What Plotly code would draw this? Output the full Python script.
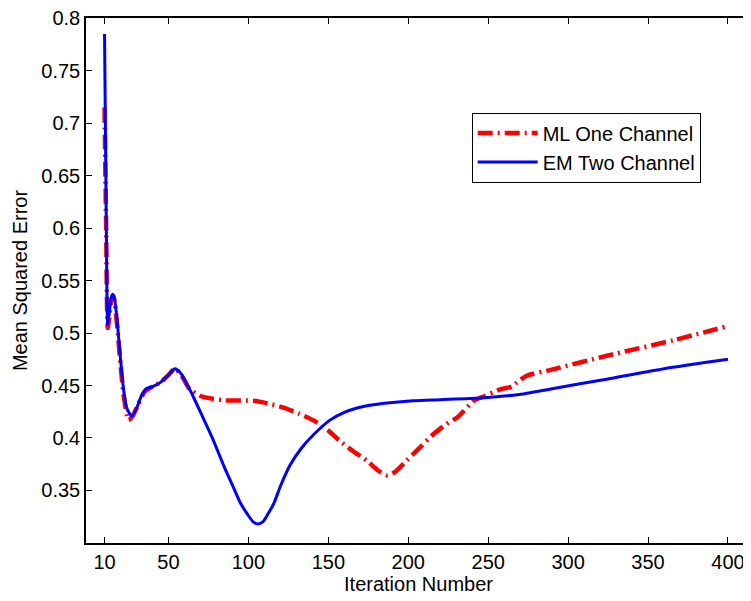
"""MSE vs iteration: ML one-channel vs EM two-channel."""

import plotly.graph_objects as go

# iteration numbers and MSE
ml_iter = [10, 11, 12, 13, 14, 15, 16, 18, 20, 22, 25, 28, 31, 35, 40, 45, 50, 54,
           58, 63, 70, 84, 103, 112, 122, 132, 141, 150, 157, 165, 174, 181, 187,
           192, 199, 208, 216, 224, 231, 241, 248, 258, 265, 268, 274, 291, 324,
           366, 400]
ml_mse = [0.715, 0.600, 0.505, 0.515, 0.530, 0.535, 0.532, 0.505, 0.470, 0.440,
          0.417, 0.422, 0.432, 0.444, 0.449, 0.453, 0.460, 0.466, 0.460, 0.447,
          0.440, 0.436, 0.4355, 0.433, 0.429, 0.423, 0.4165, 0.407, 0.3975, 0.388,
          0.3785, 0.369, 0.3643, 0.368, 0.3785, 0.392, 0.404, 0.4134, 0.420,
          0.4355, 0.440, 0.4466, 0.449, 0.453, 0.4593, 0.4656, 0.4783, 0.4932,
          0.5067]

em_iter = [10, 11, 12, 13, 14, 15, 16, 18, 20, 22, 24, 27, 30, 33, 36, 40, 45, 50,
           54, 58, 65, 72, 78, 85, 90, 95, 100, 103, 106, 109, 112, 116, 120, 126,
           133, 141, 151, 160, 172, 185, 203, 220, 245, 260, 272, 290, 324, 360, 400]
em_mse = [0.785, 0.620, 0.508, 0.520, 0.532, 0.537, 0.535, 0.510, 0.475, 0.445,
          0.428, 0.421, 0.428, 0.440, 0.447, 0.449, 0.453, 0.460, 0.466, 0.461,
          0.441, 0.418, 0.398, 0.372, 0.355, 0.338, 0.326, 0.320, 0.318, 0.320,
          0.327, 0.338, 0.354, 0.374, 0.390, 0.4035, 0.417, 0.4245, 0.430, 0.433,
          0.4355, 0.4365, 0.438, 0.440, 0.442, 0.447, 0.456, 0.466, 0.475]

x_ticks = [10, 50, 100, 150, 200, 250, 300, 350, 400]
y_ticks = [0.35, 0.4, 0.45, 0.5, 0.55, 0.6, 0.65, 0.7, 0.75, 0.8]

FONT = "Liberation Sans, Arial, sans-serif"
FSIZE = 20

fig = go.Figure()
fig.add_trace(go.Scatter(
    x=ml_iter, y=ml_mse, mode="lines", name="ML One Channel",
    line=dict(color="#ff0000", width=4.5, dash="15px,5px,2px,5px",
              shape="spline", smoothing=0.6),
))
fig.add_trace(go.Scatter(
    x=em_iter, y=em_mse, mode="lines", name="EM Two Channel",
    line=dict(color="#0000ff", width=3, shape="spline", smoothing=0.6),
))

axis_common = dict(
    showgrid=False, zeroline=False, automargin=False,
    showline=True, linecolor="black", linewidth=1.5, mirror="ticks",
    ticks="inside", ticklen=6, tickcolor="black", tickwidth=1,
    tickfont=dict(family=FONT, size=FSIZE, color="black"),
)

# page body adds an 8px offset, so the figure is 8px smaller than the window
fig.update_layout(
    width=743, height=593,
    margin=dict(l=78, r=0, t=10, b=58),
    plot_bgcolor="white", paper_bgcolor="white",
    font=dict(family=FONT, size=FSIZE, color="black"),
    xaxis=dict(
        range=[-1.6, 414.4], tickvals=x_ticks,
        title=dict(text="Iteration Number", standoff=2,
                   font=dict(family=FONT, size=FSIZE)),
        **axis_common,
    ),
    yaxis=dict(
        range=[0.2999, 0.8003], tickvals=y_ticks,
        ticklabeloverflow="allow",
        title=dict(text="Mean Squared Error", standoff=8,
                   font=dict(family=FONT, size=FSIZE)),
        **axis_common,
    ),
    legend=dict(
        x=0.58, y=0.82, xanchor="left", yanchor="top",
        bordercolor="black", borderwidth=1, bgcolor="white",
        font=dict(family=FONT, size=FSIZE), itemwidth=60,
        tracegroupgap=0,
    ),
)

fig.write_html("out.html")
